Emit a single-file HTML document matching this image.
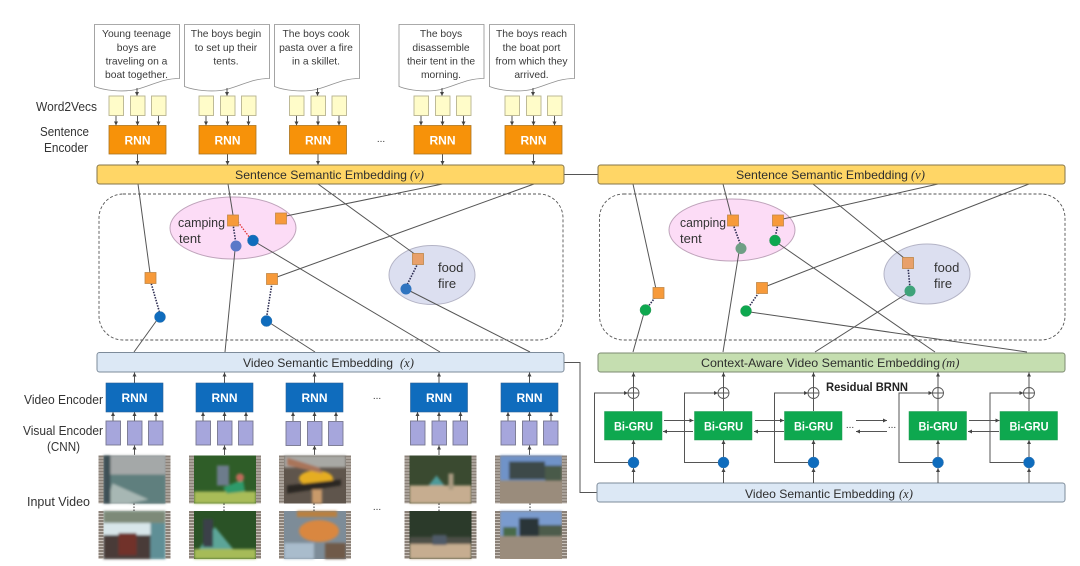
<!DOCTYPE html>
<html><head><meta charset="utf-8"><style>
html,body{margin:0;padding:0;background:#fff}
svg{display:block;filter:blur(.35px)}
text{font-family:"Liberation Sans",sans-serif;fill:#333}
.d{font-size:10.3px;text-anchor:middle;fill:#3a3a3a}
.l{font-size:12.5px;fill:#333}
.w{font-size:12px;font-weight:bold;fill:#fff;text-anchor:middle}
.b{font-size:12px;fill:#2e2e2e}
.m{font-family:"Liberation Serif",serif;font-style:italic;font-size:12.5px;fill:#2e2e2e}
.c{fill:none;stroke:#555;stroke-width:1}
.a{fill:none;stroke:#555;stroke-width:1;marker-end:url(#ar)}
.dot{fill:none;stroke:#2a2a50;stroke-width:1.6;stroke-dasharray:1.5 1.3}
.doc{fill:#fff;stroke:#8e8e8e;stroke-width:.8}
.wv{fill:#fffcc9;stroke:#b7b38f;stroke-width:.9}
.rnn{fill:#f79209;stroke:#ab7420;stroke-width:.8}
.blue{fill:#0f6cbd;stroke:#2a5f95;stroke-width:.6}
.cnn{fill:#a6a6dc;stroke:#77778f;stroke-width:.9}
.gru{fill:#0ea84f;stroke:#1f9a50;stroke-width:.5}
.sq{fill:#f79a3a;stroke:#c08848;stroke-width:.8}
.ci{fill:#0f6cbd;stroke:#3a78b0;stroke-width:.5}
.cg{fill:#0ea84f;stroke:#3a9a60;stroke-width:.5}
.pl{fill:#fff;stroke:#555;stroke-width:.9}
</style></head><body>
<svg width="1080" height="566" viewBox="0 0 1080 566" xmlns="http://www.w3.org/2000/svg">
<defs>
<marker id="ar" markerWidth="5" markerHeight="5" refX="4" refY="2" orient="auto" markerUnits="userSpaceOnUse"><path d="M0 0L4 2L0 4Z" fill="#444"/></marker>
<pattern id="st" width="5" height="3" patternUnits="userSpaceOnUse"><rect width="5" height="3" fill="#8b8178"/><rect y="2" width="5" height="1" fill="#c9c2bb"/></pattern>
<filter id="bl"><feGaussianBlur stdDeviation="1.2"/></filter>
<path id="docp" d="M0 0H85V54C68 54 60 60 42 65C28 68 10 66 0 62Z"/>
<g id="sarr" class="a"><path d="M28 88V96"/><path d="M7 115.5V125.5"/><path d="M28.5 115.5V125.5"/><path d="M49.5 115.5V125.5"/><path d="M28.5 154V165"/></g>
<g id="varr" class="a"><path d="M28.5 383V372.5"/><path d="M7 421V412"/><path d="M28.5 421V412"/><path d="M50 421V412"/><path d="M28.5 455V445.5"/></g>
<g id="garr" class="a"><path d="M0 483V468"/><path d="M0 457V440"/><path d="M0 387V372.5"/><path d="M-5 462.5H-39V393H-5.5"/></g>
</defs>

<!-- documents -->
<g class="doc">
<use href="#docp" x="94.5" y="24.5"/><use href="#docp" x="184.5" y="24.5"/><use href="#docp" x="274.5" y="24.5"/><use href="#docp" x="399" y="24.5"/><use href="#docp" x="489.5" y="24.5"/>
</g>
<text class="d" x="136.5" y="37">Young teenage</text><text class="d" x="136.5" y="51">boys are</text><text class="d" x="136.5" y="64.5">traveling on a</text><text class="d" x="136.5" y="78">boat together.</text>
<text class="d" x="226" y="37">The boys begin</text><text class="d" x="226" y="51">to set up their</text><text class="d" x="226" y="64.5">tents.</text>
<text class="d" x="316" y="37">The boys cook</text><text class="d" x="316" y="51">pasta over a fire</text><text class="d" x="316" y="64.5">in a skillet.</text>
<text class="d" x="441" y="37">The boys</text><text class="d" x="441" y="51">disassemble</text><text class="d" x="441" y="64.5">their tent in the</text><text class="d" x="441" y="78">morning.</text>
<text class="d" x="531.5" y="37">The boys reach</text><text class="d" x="531.5" y="51">the boat port</text><text class="d" x="531.5" y="64.5">from which they</text><text class="d" x="531.5" y="78">arrived.</text>

<!-- labels left -->
<text class="l" x="36" y="111" textLength="61" lengthAdjust="spacingAndGlyphs">Word2Vecs</text>
<text class="l" x="40" y="136" textLength="49" lengthAdjust="spacingAndGlyphs">Sentence</text>
<text class="l" x="44" y="152" textLength="44" lengthAdjust="spacingAndGlyphs">Encoder</text>
<text class="l" x="24" y="404" textLength="79" lengthAdjust="spacingAndGlyphs">Video Encoder</text>
<text class="l" x="23" y="435" textLength="80" lengthAdjust="spacingAndGlyphs">Visual Encoder</text>
<text class="l" x="47" y="451" textLength="33" lengthAdjust="spacingAndGlyphs">(CNN)</text>
<text class="l" x="27" y="506" textLength="63" lengthAdjust="spacingAndGlyphs">Input Video</text>

<!-- sentence encoder groups -->
<g transform="translate(109,0)"><use href="#sarr"/><rect class="wv" y="96" width="14.5" height="19.5"/><rect class="wv" x="21.5" y="96" width="14.5" height="19.5"/><rect class="wv" x="42.5" y="96" width="14.5" height="19.5"/><rect class="rnn" y="125.5" width="57" height="28.5"/><text class="w" x="28.5" y="144.5">RNN</text></g>
<g transform="translate(199,0)"><use href="#sarr"/><rect class="wv" y="96" width="14.5" height="19.5"/><rect class="wv" x="21.5" y="96" width="14.5" height="19.5"/><rect class="wv" x="42.5" y="96" width="14.5" height="19.5"/><rect class="rnn" y="125.5" width="57" height="28.5"/><text class="w" x="28.5" y="144.5">RNN</text></g>
<g transform="translate(289.5,0)"><use href="#sarr"/><rect class="wv" y="96" width="14.5" height="19.5"/><rect class="wv" x="21.5" y="96" width="14.5" height="19.5"/><rect class="wv" x="42.5" y="96" width="14.5" height="19.5"/><rect class="rnn" y="125.5" width="57" height="28.5"/><text class="w" x="28.5" y="144.5">RNN</text></g>
<g transform="translate(414,0)"><use href="#sarr"/><rect class="wv" y="96" width="14.5" height="19.5"/><rect class="wv" x="21.5" y="96" width="14.5" height="19.5"/><rect class="wv" x="42.5" y="96" width="14.5" height="19.5"/><rect class="rnn" y="125.5" width="57" height="28.5"/><text class="w" x="28.5" y="144.5">RNN</text></g>
<g transform="translate(505,0)"><use href="#sarr"/><rect class="wv" y="96" width="14.5" height="19.5"/><rect class="wv" x="21.5" y="96" width="14.5" height="19.5"/><rect class="wv" x="42.5" y="96" width="14.5" height="19.5"/><rect class="rnn" y="125.5" width="57" height="28.5"/><text class="w" x="28.5" y="144.5">RNN</text></g>
<text x="381" y="142" font-size="10" text-anchor="middle">...</text>

<!-- dashed -->
<rect x="99" y="194" width="464" height="146" rx="24" fill="none" stroke="#555" stroke-width=".9" stroke-dasharray="3 2"/>
<rect x="599.5" y="194" width="465.5" height="146" rx="24" fill="none" stroke="#555" stroke-width=".9" stroke-dasharray="3 2"/>

<!-- ellipses -->
<ellipse cx="233" cy="228" rx="63" ry="31" fill="#fcdcf6" stroke="#bfa4bb"/>
<ellipse cx="432" cy="275" rx="43" ry="29.5" fill="#dcdff0" stroke="#b4b4c6"/>
<ellipse cx="732" cy="230" rx="63" ry="31" fill="#fcdcf6" stroke="#bfa4bb"/>
<ellipse cx="927" cy="274" rx="43" ry="30" fill="#dcdff0" stroke="#b4b4c6"/>
<text x="178" y="227" font-size="13" textLength="47" lengthAdjust="spacingAndGlyphs">camping</text><text x="179" y="243" font-size="13">tent</text>
<text x="438" y="272" font-size="13">food</text><text x="438" y="288" font-size="13">fire</text>
<text x="680" y="227" font-size="13" textLength="46" lengthAdjust="spacingAndGlyphs">camping</text><text x="680" y="243" font-size="13">tent</text>
<text x="934" y="272" font-size="13">food</text><text x="934" y="288" font-size="13">fire</text>

<!-- connectors -->
<g class="c">
<path d="M138 184L150 273M228 184L233 215M318 184L416 255M442.5 184L286 216M534 184L277 277"/>
<path d="M134 352L157 320M225 352L235 250M315 352L270 323M440 352L257 243M530 352L410 291"/>
<path d="M633 184L656 289M723 184L731 215M813 184L904 258M938 184L783 219M1029 184L767 286"/>
<path d="M633 352L644 313M723 352L739 252M815 352L906 294M935 352L779 244M1027 352L750 312"/>
<path d="M564 174.5H598M564 362.5H580V492.5H597"/>
</g>
<!-- dotted -->
<path class="dot" d="M233 224L236 244M150.5 281L160 314M272 283L266.5 318M418 263L406 287M733 224L741 246M778 224L775 238M658.5 293L645.5 310M762 288L746 311M908 267L910 288"/>
<path d="M238 222L250 238" fill="none" stroke="#e03030" stroke-width="1.3" stroke-dasharray="1.5 1.3"/>

<!-- squares -->
<g class="sq">
<rect x="227.5" y="215" width="11" height="11"/><rect x="275.5" y="213" width="11" height="11"/><rect x="145" y="272.5" width="11" height="11"/><rect x="266.5" y="273.5" width="11" height="11"/><rect x="412.5" y="253.5" width="11" height="11" fill="#e8a06a"/>
<rect x="727.5" y="215" width="11" height="11"/><rect x="772.5" y="215" width="11" height="11"/><rect x="653" y="287.5" width="11" height="11"/><rect x="756.5" y="282.5" width="11" height="11"/><rect x="902.5" y="257.5" width="11" height="11" fill="#e8a06a"/>
</g>
<!-- circles -->
<circle cx="236" cy="246" r="5.5" fill="#5b79c8"/><circle class="ci" cx="253" cy="240.5" r="5.5"/><circle class="ci" cx="160" cy="317" r="5.5"/><circle class="ci" cx="266.5" cy="321" r="5.5"/><circle cx="406" cy="289" r="5.5" fill="#2f74c0"/>
<circle cx="741" cy="248.5" r="5.5" fill="#6f9f85"/><circle class="cg" cx="775" cy="240.5" r="5.5"/><circle class="cg" cx="645.5" cy="310" r="5.5"/><circle class="cg" cx="746" cy="311" r="5.5"/><circle cx="910" cy="291" r="5.5" fill="#3fa37a"/>

<!-- bars -->
<rect x="97" y="165" width="467" height="19" rx="2.5" fill="#ffd666" stroke="#85754a"/>
<rect x="598" y="165" width="467" height="19" rx="2.5" fill="#ffd666" stroke="#85754a"/>
<rect x="97" y="352.5" width="467" height="19.5" rx="2.5" fill="#dce8f5" stroke="#7d8b9a"/>
<rect x="598" y="353" width="467" height="19" rx="2.5" fill="#c5deb0" stroke="#7d8b72"/>
<rect x="597" y="483" width="468" height="19" rx="2.5" fill="#dce8f5" stroke="#7d8b9a"/>
<text class="b" x="235" y="179" textLength="172" lengthAdjust="spacingAndGlyphs">Sentence Semantic Embedding</text><text class="m" x="410" y="179">(v)</text>
<text class="b" x="736" y="179" textLength="172" lengthAdjust="spacingAndGlyphs">Sentence Semantic Embedding</text><text class="m" x="911" y="179">(v)</text>
<text class="b" x="243" y="367" textLength="150" lengthAdjust="spacingAndGlyphs">Video Semantic Embedding</text><text class="m" x="400" y="367">(x)</text>
<text class="b" x="701" y="367" textLength="239" lengthAdjust="spacingAndGlyphs">Context-Aware Video Semantic Embedding</text><text class="m" x="942" y="367">(m)</text>
<text class="b" x="745" y="498" textLength="150" lengthAdjust="spacingAndGlyphs">Video Semantic Embedding</text><text class="m" x="899" y="498">(x)</text>

<!-- video encoder groups -->
<g transform="translate(106,0)"><use href="#varr"/><rect class="blue" y="383" width="57" height="29"/><text class="w" x="28.5" y="402">RNN</text><rect class="cnn" y="421" width="14.5" height="24"/><rect class="cnn" x="21.5" y="421" width="14.5" height="24"/><rect class="cnn" x="42.5" y="421" width="14.5" height="24"/></g>
<g transform="translate(196,0)"><use href="#varr"/><rect class="blue" y="383" width="57" height="29"/><text class="w" x="28.5" y="402">RNN</text><rect class="cnn" y="421" width="14.5" height="24"/><rect class="cnn" x="21.5" y="421" width="14.5" height="24"/><rect class="cnn" x="42.5" y="421" width="14.5" height="24"/></g>
<g transform="translate(286,0)"><use href="#varr"/><rect class="blue" y="383" width="57" height="29"/><text class="w" x="28.5" y="402">RNN</text><rect class="cnn" y="421.5" width="14.5" height="24"/><rect class="cnn" x="21.5" y="421.5" width="14.5" height="24"/><rect class="cnn" x="42.5" y="421.5" width="14.5" height="24"/></g>
<g transform="translate(410.5,0)"><use href="#varr"/><rect class="blue" y="383" width="57" height="29"/><text class="w" x="28.5" y="402">RNN</text><rect class="cnn" y="421" width="14.5" height="24"/><rect class="cnn" x="21.5" y="421" width="14.5" height="24"/><rect class="cnn" x="42.5" y="421" width="14.5" height="24"/></g>
<g transform="translate(501,0)"><use href="#varr"/><rect class="blue" y="383" width="57" height="29"/><text class="w" x="28.5" y="402">RNN</text><rect class="cnn" y="421" width="14.5" height="24"/><rect class="cnn" x="21.5" y="421" width="14.5" height="24"/><rect class="cnn" x="42.5" y="421" width="14.5" height="24"/></g>
<text x="377" y="399" font-size="10" text-anchor="middle">...</text>
<text x="377" y="510" font-size="10" text-anchor="middle">...</text>

<!-- thumbnails -->
<g>
<!-- 1 -->
<g transform="translate(98.5,455.5)">
<rect width="72" height="48" fill="#8d9698"/><g filter="url(#bl)"><rect x="5" width="62" height="19" fill="#a4a8a8"/><rect x="5" y="19" width="62" height="29" fill="#5e7f7e"/><path d="M14 28L50 44L30 48L8 48Z" fill="#a7b7b4"/><rect x="5" width="7" height="48" fill="#3d4f55"/></g>
<rect width="5" height="48" fill="url(#st)"/><rect x="67" width="5" height="48" fill="url(#st)"/></g>
<g transform="translate(98.5,511)">
<rect width="72" height="48" fill="#cbd8d8"/><g filter="url(#bl)"><rect x="5" width="62" height="12" fill="#7d8a78"/><rect x="5" y="12" width="62" height="14" fill="#d8e6ea"/><rect x="5" y="24" width="48" height="24" fill="#4a3a38"/><rect x="20" y="22" width="18" height="22" fill="#71302a"/><rect x="52" y="12" width="15" height="36" fill="#5f8f96"/></g>
<rect width="5" height="48" fill="url(#st)"/><rect x="67" width="5" height="48" fill="url(#st)"/></g>
<!-- 2 -->
<g transform="translate(189,455.5)">
<rect width="72" height="48" fill="#2f5d28"/><g filter="url(#bl)"><rect x="5" y="36" width="62" height="12" fill="#a9bc58"/><rect x="28" y="10" width="12" height="20" fill="#6d7c8c"/><path d="M34 32L54 24L56 36L38 38Z" fill="#2f9a6a"/><circle cx="51" cy="22" r="4" fill="#c06a5a"/></g>
<rect width="5" height="48" fill="url(#st)"/><rect x="67" width="5" height="48" fill="url(#st)"/></g>
<g transform="translate(189,511)">
<rect width="72" height="48" fill="#2a5226"/><g filter="url(#bl)"><rect x="5" y="38" width="62" height="10" fill="#a6bb58"/><path d="M10 38L26 16L44 38Z" fill="#5ca598"/><rect x="14" y="8" width="10" height="28" fill="#3a3f48"/></g>
<rect width="5" height="48" fill="url(#st)"/><rect x="67" width="5" height="48" fill="url(#st)"/></g>
<!-- 3 -->
<g transform="translate(279,455.5)">
<rect width="72" height="48" fill="#5f554c"/><g filter="url(#bl)"><rect x="5" width="62" height="12" fill="#a8a8a4"/><ellipse cx="37" cy="23" rx="17" ry="8" fill="#e5ad22"/><path d="M8 2L40 12L44 18L8 10Z" fill="#a9745a"/><path d="M8 30L62 24V30L8 38Z" fill="#2a2622"/><rect x="33" y="34" width="10" height="14" fill="#c99a6a"/></g>
<rect width="5" height="48" fill="url(#st)"/><rect x="67" width="5" height="48" fill="url(#st)"/></g>
<g transform="translate(279,511)">
<rect width="72" height="48" fill="#7d8c98"/><g filter="url(#bl)"><ellipse cx="40" cy="20" rx="20" ry="11" fill="#d98740"/><rect x="5" y="32" width="30" height="16" fill="#a9bccc"/><rect x="46" y="32" width="21" height="16" fill="#6f5a48"/><rect x="18" width="40" height="6" fill="#b98040"/></g>
<rect width="5" height="48" fill="url(#st)"/><rect x="67" width="5" height="48" fill="url(#st)"/></g>
<!-- 4 -->
<g transform="translate(404.5,455.5)">
<rect width="72" height="48" fill="#3a4a30"/><g filter="url(#bl)"><rect x="5" y="30" width="62" height="18" fill="#c6ad90"/><path d="M24 30L32 20L40 30Z" fill="#4d9a9a"/><rect x="44" y="18" width="5" height="16" fill="#a89a80"/></g>
<rect width="5" height="48" fill="url(#st)"/><rect x="67" width="5" height="48" fill="url(#st)"/></g>
<g transform="translate(404.5,511)">
<rect width="72" height="48" fill="#2b3a2a"/><g filter="url(#bl)"><rect x="5" y="33" width="62" height="15" fill="#c6ad90"/><rect x="5" y="26" width="62" height="7" fill="#4e5046"/><rect x="28" y="24" width="14" height="10" fill="#505a68"/></g>
<rect width="5" height="48" fill="url(#st)"/><rect x="67" width="5" height="48" fill="url(#st)"/></g>
<!-- 5 -->
<g transform="translate(495,455.5)">
<rect width="72" height="48" fill="#9a8c7c"/><g filter="url(#bl)"><rect x="5" width="62" height="25" fill="#6f93c8"/><rect x="14" y="6" width="36" height="18" fill="#3c4a4a"/><rect x="50" y="10" width="17" height="15" fill="#4a5a48"/></g>
<rect width="5" height="48" fill="url(#st)"/><rect x="67" width="5" height="48" fill="url(#st)"/></g>
<g transform="translate(495,511)">
<rect width="72" height="48" fill="#9a8c7c"/><g filter="url(#bl)"><rect x="5" width="62" height="25" fill="#7a9bce"/><rect x="24" y="7" width="20" height="18" fill="#2c3438"/><rect x="44" y="14" width="23" height="11" fill="#4d5c4c"/><rect x="8" y="16" width="14" height="9" fill="#4a6a48"/></g>
<rect width="5" height="48" fill="url(#st)"/><rect x="67" width="5" height="48" fill="url(#st)"/></g>
<!-- vertical dots between frames -->
<path d="M134 503.5V511M224 503.5V511M314 503.5V511M439 503.5V511M530 503.5V511" fill="none" stroke="#333" stroke-width="1" stroke-dasharray="1.5 1.5"/>
</g>

<!-- Bi-GRU groups -->
<g transform="translate(633.5,0)"><use href="#garr"/><path class="c" d="M0 411V399"/><circle class="pl" cy="393" r="5.5"/><path class="c" d="M-5.5 393H5.5M0 387.5V398.5"/><rect class="gru" x="-29" y="411.5" width="57.5" height="28.5"/><text class="w" y="430.5" x="0" textLength="39" lengthAdjust="spacingAndGlyphs">Bi-GRU</text><circle class="ci" cy="462.5" r="5.5"/></g>
<g transform="translate(723.5,0)"><use href="#garr"/><path class="c" d="M0 411V399"/><circle class="pl" cy="393" r="5.5"/><path class="c" d="M-5.5 393H5.5M0 387.5V398.5"/><rect class="gru" x="-29" y="411.5" width="57.5" height="28.5"/><text class="w" y="430.5" x="0" textLength="39" lengthAdjust="spacingAndGlyphs">Bi-GRU</text><circle class="ci" cy="462.5" r="5.5"/></g>
<g transform="translate(813.5,0)"><use href="#garr"/><path class="c" d="M0 411V399"/><circle class="pl" cy="393" r="5.5"/><path class="c" d="M-5.5 393H5.5M0 387.5V398.5"/><rect class="gru" x="-29" y="411.5" width="57.5" height="28.5"/><text class="w" y="430.5" x="0" textLength="39" lengthAdjust="spacingAndGlyphs">Bi-GRU</text><circle class="ci" cy="462.5" r="5.5"/></g>
<g transform="translate(938,0)"><use href="#garr"/><path class="c" d="M0 411V399"/><circle class="pl" cy="393" r="5.5"/><path class="c" d="M-5.5 393H5.5M0 387.5V398.5"/><rect class="gru" x="-29" y="411.5" width="57.5" height="28.5"/><text class="w" y="430.5" x="0" textLength="39" lengthAdjust="spacingAndGlyphs">Bi-GRU</text><circle class="ci" cy="462.5" r="5.5"/></g>
<g transform="translate(1029,0)"><use href="#garr"/><path class="c" d="M0 411V399"/><circle class="pl" cy="393" r="5.5"/><path class="c" d="M-5.5 393H5.5M0 387.5V398.5"/><rect class="gru" x="-29" y="411.5" width="57.5" height="28.5"/><text class="w" y="430.5" x="0" textLength="39" lengthAdjust="spacingAndGlyphs">Bi-GRU</text><circle class="ci" cy="462.5" r="5.5"/></g>

<!-- horizontal arrows -->
<g class="a">
<path d="M664 420.5H693.5"/><path d="M693 431.5H663"/>
<path d="M755 420.5H784"/><path d="M784 431.5H754"/>
<path d="M856 420.5H887"/><path d="M887 431.5H856"/>
<path d="M969 420.5H999.5"/><path d="M999 431.5H968"/>
</g>
<text x="850" y="428" font-size="10" text-anchor="middle">...</text>
<text x="892" y="428" font-size="10" text-anchor="middle">...</text>
<text x="826" y="391" font-size="11.5" font-weight="bold" style="fill:#222" textLength="82" lengthAdjust="spacingAndGlyphs">Residual BRNN</text>
</svg>
</body></html>
